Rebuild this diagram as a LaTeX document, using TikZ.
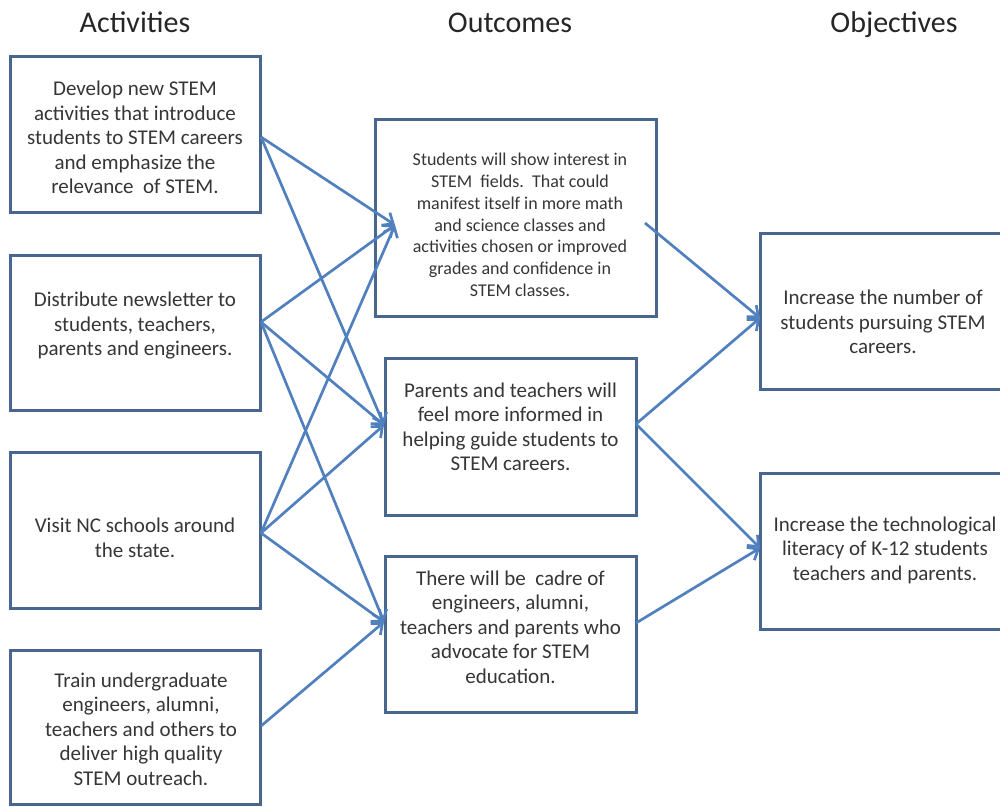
\documentclass[tikz,border=0pt]{standalone}
\usepackage{fontspec}
\setmainfont{Carlito}
\usetikzlibrary{arrows.meta}
\definecolor{boxline}{HTML}{48668E}
\definecolor{arrowblue}{HTML}{5080BE}
\definecolor{txtgray}{HTML}{363636}
\begin{document}
\begin{tikzpicture}[x=1pt,y=-1pt,
  box/.style={draw=boxline,line width=3pt,inner sep=0pt,outer sep=0pt},
  txt/.style={align=center,inner sep=0pt,text=txtgray,font=\fontsize{21}{24.5}\selectfont},
  smalltxt/.style={align=center,inner sep=0pt,text=txtgray,font=\fontsize{18}{21.8}\selectfont},
  head/.style={inner sep=0pt,anchor=base,text=black!85,font=\fontsize{30}{34}\selectfont},
  arr/.style={draw=arrowblue,line width=2.7pt,-{Straight Barb[length=9pt,width=15pt,line width=2.7pt]}}]
\useasboundingbox (0,0) rectangle (1000,806);
\fill[white] (0,0) rectangle (1000,806);
% headers
\node[head] (hact) at (135,32) {Activities};
\node[head] (hout) at (510,32) {Outcomes};
\node[head] (hobj) at (894,32) {Objectives};
% activity boxes
\node[box,minimum width=250pt,minimum height=156pt] (a1) at (135.5,134) {};
\node[box,minimum width=250pt,minimum height=155pt] (a2) at (135.5,332.5) {};
\node[box,minimum width=250pt,minimum height=156pt] (a3) at (135.5,530) {};
\node[box,minimum width=250pt,minimum height=154pt] (a4) at (135.5,727) {};
\node[txt] (a1t) at (135,137.5) {Develop new STEM\\activities that introduce\\students to STEM careers\\and emphasize the\\relevance\ \ of STEM.};
\node[txt] (a2t) at (135,326) {Distribute newsletter to\\students, teachers,\\parents and engineers.};
\node[txt] (a3t) at (135,538) {Visit NC schools around\\the state.};
\node[txt] (a4t) at (141,729) {Train undergraduate\\engineers, alumni,\\teachers and others to\\deliver high quality\\STEM outreach.};
% outcome boxes
\node[box,minimum width=281pt,minimum height=197pt] (o1) at (515.5,217.5) {};
\node[box,minimum width=251pt,minimum height=157pt] (o2) at (510.5,436.5) {};
\node[box,minimum width=251pt,minimum height=156pt] (o3) at (510.5,634) {};
\node[smalltxt] (o1t) at (520,225) {Students will show interest in\\STEM\ \ fields.\ \ That could\\manifest itself in more math\\and science classes and\\activities chosen or improved\\grades and confidence in\\STEM classes.};
\node[txt] (o2t) at (510.5,427) {Parents and teachers will\\feel more informed in\\helping guide students to\\STEM careers.};
\node[txt] (o3t) at (510.5,627) {There will be\ \ cadre of\\engineers, alumni,\\teachers and parents who\\advocate for STEM\\education.};
% objective boxes (cut by the right edge)
\begin{scope}
\clip (0,0) rectangle (1000,806);
\node[box,minimum width=246pt,minimum height=156pt] (b1) at (883,311) {};
\node[box,minimum width=246pt,minimum height=156pt] (b2) at (883,551) {};
\end{scope}
\node[txt] (b1t) at (883,322) {Increase the number of\\students pursuing STEM\\careers.};
\node[txt] (b2t) at (885,550) {Increase the technological\\literacy of K-12 students\\teachers and parents.};
% connector ends
\coordinate (a1s) at (261,137);
\coordinate (a2s) at (261,322);
\coordinate (a3s) at (261,533);
\coordinate (a4s) at (261,726);
\coordinate (o1in) at (395,225);
\coordinate (o2in) at (384,425);
\coordinate (o3in) at (384,622);
\coordinate (o1out) at (645,223);
\coordinate (o2out) at (636,424);
\coordinate (o3out) at (636,623);
\coordinate (b1in) at (760,318);
\coordinate (b2in) at (760,548);
% connectors
\draw[arr] (a1s) -- (o1in);
\draw[arr] (a1s) -- (o2in);
\draw[arr] (a2s) -- (o1in);
\draw[arr] (a2s) -- (o2in);
\draw[arr] (a2s) -- (o3in);
\draw[arr] (a3s) -- (o1in);
\draw[arr] (a3s) -- (o2in);
\draw[arr] (a3s) -- (o3in);
\draw[arr] (a4s) -- (o3in);
\draw[arr] (o1out) -- (b1in);
\draw[arr] (o2out) -- (b1in);
\draw[arr] (o2out) -- (b2in);
\draw[arr] (o3out) -- (b2in);
\end{tikzpicture}
\end{document}
